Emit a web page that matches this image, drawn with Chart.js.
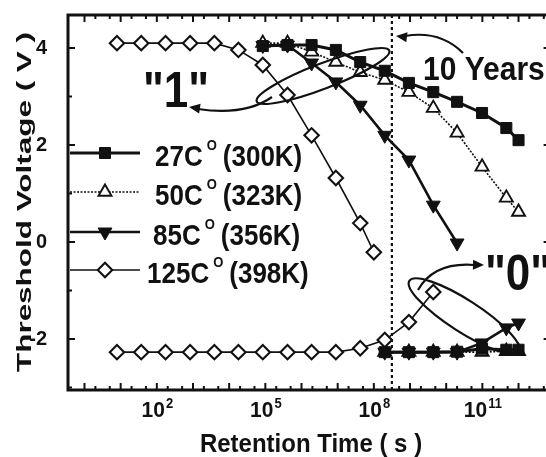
<!DOCTYPE html>
<html>
<head>
<meta charset="utf-8">
<script src="https://cdn.jsdelivr.net/npm/chart.js@4.4.1/dist/chart.umd.min.js"></script>
<style>
  html, body { margin: 0; padding: 0; background: #fff; }
  #wrap { width: 546px; height: 457px; overflow: hidden; }
  canvas { display: block; }
</style>
</head>
<body>
<div id="wrap"><canvas id="chart" width="560" height="457"></canvas></div>
<script>
// retention times (s) and threshold voltages (V)
const t125One = [7.9, 37, 174, 832, 3.9e3, 1.8e4, 8.5e4, 4.1e5, 1.9e6, 8.9e6, 4.2e7, 1e8];
const v125One = [4.1, 4.1, 4.1, 4.1, 4.1, 3.96, 3.65, 3.03, 2.2, 1.32, 0.39, -0.21];
const t125Zero = [7.9, 37, 174, 832, 3.9e3, 1.8e4, 8.5e4, 4.1e5, 1.9e6, 8.9e6, 4.2e7, 2.0e8, 9.3e8, 4.4e9];
const v125Zero = [-2.27, -2.27, -2.27, -2.27, -2.27, -2.27, -2.27, -2.27, -2.27, -2.27, -2.19, -2.02, -1.65, -1.03];

const tOne = [8.5e4, 4.1e5, 1.9e6, 8.9e6, 4.2e7, 2.0e8, 9.3e8, 4.4e9, 2.0e10, 9.8e10, 4.6e11, 1e12];
const v27One = [4.04, 4.06, 4.06, 3.96, 3.71, 3.53, 3.28, 3.09, 2.89, 2.66, 2.35, 2.1];
const v50One = [4.1, 4.1, 3.92, 3.71, 3.5, 3.34, 3.09, 2.76, 2.25, 1.55, 0.91, 0.62];
const t85One = [8.5e4, 4.1e5, 1.9e6, 8.9e6, 4.2e7, 2.0e8, 9.3e8, 4.4e9, 2.0e10];
const v85One = [4.05, 4.06, 3.69, 3.3, 2.82, 2.2, 1.69, 0.76, -0.02];

const tZero = [2.0e8, 9.3e8, 4.4e9, 2.0e10, 9.8e10, 4.6e11, 1e12];
const v27Zero = [-2.27, -2.27, -2.27, -2.26, -2.2, -2.22, -2.22];
const v50Zero = [-2.27, -2.27, -2.27, -2.27, -2.27, -2.25, -2.25];
const v85Zero = [-2.27, -2.27, -2.27, -2.27, -2.08, -1.77, -1.67];

const X_TICKS = [1e2, 1e5, 1e8, 1e11];
const X_EXP = ['2', '5', '8', '11'];
const Y_TICKS = [-2, 0, 2, 4];
const TEN_YEARS = 3.15e8;

const FONT = '"Liberation Sans", Arial, sans-serif';
Chart.defaults.font.family = FONT;
const INK = '#111';

const styles = {
  c27:  { label: '27C',  kelvin: '(300K)', lx: 155, row: 153, pointStyle: 'rect', radius: 7.8, rotation: 0, fill: INK, bw: 3, pbw: 1, dash: [] },
  c50:  { label: '50C',  kelvin: '(323K)', lx: 155, row: 192, pointStyle: 'triangle', radius: 7.5, rotation: 0, fill: '#fff', bw: 1.6, pbw: 1.9, dash: [2, 1.5] },
  c85:  { label: '85C',  kelvin: '(356K)', lx: 153, row: 232, pointStyle: 'triangle', radius: 8, rotation: 180, fill: INK, bw: 2.6, pbw: 1, dash: [] },
  c125: { label: '125C', kelvin: '(398K)', lx: 147, row: 270, pointStyle: 'rectRot', radius: 7.2, rotation: 0, fill: '#fff', bw: 1.6, pbw: 2.1, dash: [] }
};

function pts(ts, vs) { return ts.map((t, i) => ({ x: t, y: vs[i] })); }
function ds(st, ts, vs) {
  return {
    data: pts(ts, vs),
    borderColor: INK, borderWidth: st.bw, borderDash: st.dash, tension: 0,
    pointStyle: st.pointStyle, pointRadius: st.radius, pointRotation: st.rotation,
    pointBackgroundColor: st.fill, pointBorderColor: INK, pointBorderWidth: st.pbw
  };
}

function drawText(ctx, txt, x, y, size, align, sx, sy) {
  ctx.save();
  ctx.font = 'bold ' + size + 'px ' + FONT;
  ctx.textAlign = align || 'left';
  ctx.textBaseline = 'alphabetic';
  ctx.translate(x, y);
  ctx.scale(sx || 1, sy || 1);
  ctx.fillText(txt, 0, 0);
  ctx.restore();
}

function arrowHead(ctx, tipX, tipY, ang, len, half) {
  ctx.beginPath();
  ctx.moveTo(tipX, tipY);
  ctx.lineTo(tipX - len * Math.cos(ang) + half * Math.sin(ang), tipY - len * Math.sin(ang) - half * Math.cos(ang));
  ctx.lineTo(tipX - len * Math.cos(ang) - half * Math.sin(ang), tipY - len * Math.sin(ang) + half * Math.cos(ang));
  ctx.closePath();
  ctx.fill();
}

const decor = {
  id: 'decor',
  beforeDatasetsDraw(chart) {
    const { ctx, chartArea: a, scales } = chart;
    const x = scales.x.getPixelForValue(TEN_YEARS);
    ctx.save();
    ctx.strokeStyle = INK; ctx.lineWidth = 2.2; ctx.setLineDash([3, 3]);
    ctx.beginPath(); ctx.moveTo(x, a.top); ctx.lineTo(x, a.bottom); ctx.stroke();
    ctx.restore();
  },
  afterDatasetsDraw(chart) {
    const { ctx } = chart;
    ctx.save();
    ctx.strokeStyle = INK; ctx.fillStyle = INK; ctx.lineWidth = 2.2;
    // ellipse round the "1" crossing
    ctx.beginPath(); ctx.ellipse(323, 76, 71, 12.5, -21 * Math.PI / 180, 0, Math.PI * 2); ctx.stroke();
    ctx.beginPath(); ctx.moveTo(272, 97); ctx.quadraticCurveTo(245, 116, 198, 109); ctx.stroke();
    arrowHead(ctx, 189, 107, Math.PI + 0.15, 11, 5);
    // ellipse round the "0" crossing
    ctx.beginPath(); ctx.ellipse(464, 316, 65, 16, 32.8 * Math.PI / 180, 0, Math.PI * 2); ctx.stroke();
    ctx.beginPath(); ctx.moveTo(418, 290); ctx.quadraticCurveTo(434, 262, 474, 265); ctx.stroke();
    arrowHead(ctx, 484, 265, 0.03, 11, 5);
    // 10 years arrow
    ctx.beginPath(); ctx.moveTo(463, 53); ctx.quadraticCurveTo(440, 30, 405, 36); ctx.stroke();
    arrowHead(ctx, 396, 36, Math.PI + 0.12, 11, 5);

    drawText(ctx, '"1"', 176, 107, 44, 'center', 1, 1.14);
    drawText(ctx, '"0"', 485, 290, 44, 'left', 1, 1.14);
    drawText(ctx, '10 Years', 423, 80, 30, 'left', 1, 1.1);

    // legend
    Object.values(styles).forEach(st => {
      const y = st.row;
      ctx.save();
      ctx.lineWidth = st.bw; ctx.setLineDash(st.dash);
      ctx.beginPath(); ctx.moveTo(70, y); ctx.lineTo(140, y); ctx.stroke();
      ctx.restore();
      ctx.save();
      ctx.fillStyle = st.fill; ctx.strokeStyle = INK; ctx.lineWidth = st.pbw;
      Chart.helpers.drawPoint(ctx, { pointStyle: st.pointStyle, radius: st.radius, rotation: st.rotation, borderWidth: st.pbw }, 105, y);
      ctx.restore();
      ctx.font = 'bold 26px ' + FONT;
      const w = ctx.measureText(st.label).width;
      drawText(ctx, st.label, st.lx, y + 13, 26, 'left', 1, 1.1);
      ctx.font = 'bold 13px ' + FONT;
      const wo = ctx.measureText('O').width;
      drawText(ctx, 'O', st.lx + w + 4, y - 3, 13, 'left', 1, 1.1);
      drawText(ctx, st.kelvin, st.lx + w + 4 + wo + 6, y + 13, 26, 'left', 1, 1.1);
    });
    ctx.restore();
  },
  afterDraw(chart) {
    const { ctx, chartArea: a, scales } = chart;
    ctx.save();
    ctx.strokeStyle = INK; ctx.fillStyle = INK; ctx.lineWidth = 2;
    // inward ticks
    for (let v = -3; v <= 4; v++) {
      const y = scales.y.getPixelForValue(v);
      const len = v % 2 === 0 ? 7 : 4;
      ctx.beginPath();
      ctx.moveTo(a.left, y); ctx.lineTo(a.left + len, y);
      ctx.moveTo(a.right, y); ctx.lineTo(a.right - len, y);
      ctx.stroke();
    }
    for (let e = 0; e <= 12; e++) {
      [1, 2, 5].forEach(m => {
        const v = m * Math.pow(10, e);
        if (v < scales.x.min || v > scales.x.max) return;
        const x = scales.x.getPixelForValue(v);
        const len = m === 1 ? 7 : 4;
        ctx.beginPath();
        ctx.moveTo(x, a.bottom); ctx.lineTo(x, a.bottom - len);
        ctx.moveTo(x, a.top); ctx.lineTo(x, a.top + len);
        ctx.stroke();
      });
    }
    ctx.lineWidth = 3;
    ctx.strokeRect(a.left, a.top, a.right - a.left, a.bottom - a.top);

    // x tick labels with exponents
    X_TICKS.forEach((v, i) => {
      const x = scales.x.getPixelForValue(v);
      ctx.font = 'bold 21px ' + FONT;
      const wb = ctx.measureText('10').width;
      ctx.font = 'bold 13px ' + FONT;
      const we = ctx.measureText(X_EXP[i]).width;
      const x0 = x - (wb + we) / 2;
      drawText(ctx, '10', x0, 417, 21, 'left', 1, 1.08);
      drawText(ctx, X_EXP[i], x0 + wb + 1, 408, 13, 'left', 1, 1.1);
    });

    // axis titles
    drawText(ctx, 'Retention Time ( s )', 311, 452, 24, 'center', 1, 1.05);
    ctx.save();
    ctx.translate(31, 202);
    ctx.rotate(-Math.PI / 2);
    ctx.font = 'bold 20px ' + FONT;
    const wt = ctx.measureText('Threshold Voltage ( V )').width;
    ctx.scale(340 / wt, 1);
    ctx.textAlign = 'center';
    ctx.fillText('Threshold Voltage ( V )', 0, 0);
    ctx.restore();
    ctx.restore();
  }
};

new Chart(document.getElementById('chart'), {
  type: 'line',
  data: {
    datasets: [
      ds(styles.c125, t125Zero, v125Zero),
      ds(styles.c125, t125One, v125One),
      ds(styles.c27, tZero, v27Zero),
      ds(styles.c27, tOne, v27One),
      ds(styles.c85, tZero, v85Zero),
      ds(styles.c85, t85One, v85One),
      ds(styles.c50, tZero, v50Zero),
      ds(styles.c50, tOne, v50One)
    ]
  },
  options: {
    responsive: false,
    animation: false,
    devicePixelRatio: 1,
    layout: { padding: { top: 15, right: 9, left: 0, bottom: 0 } },
    plugins: { legend: { display: false }, tooltip: { enabled: false } },
    scales: {
      x: {
        type: 'logarithmic', min: 0.35, max: 7.7e12,
        grid: { display: false }, border: { display: false },
        ticks: { display: false },
        afterBuildTicks(s) { s.ticks = X_TICKS.map(v => ({ value: v })); },
        afterFit(s) { s.height = 67; s.paddingLeft = 0; s.paddingRight = 0; }
      },
      y: {
        min: -3.05, max: 4.68,
        grid: { display: false }, border: { display: false },
        ticks: { color: INK, padding: 13, font: { size: 20, weight: 'bold' } },
        afterBuildTicks(s) { s.ticks = Y_TICKS.map(v => ({ value: v })); },
        afterFit(s) { s.width = 68; s.paddingTop = 0; s.paddingBottom = 0; }
      }
    }
  },
  plugins: [decor]
});
</script>
</body>
</html>
